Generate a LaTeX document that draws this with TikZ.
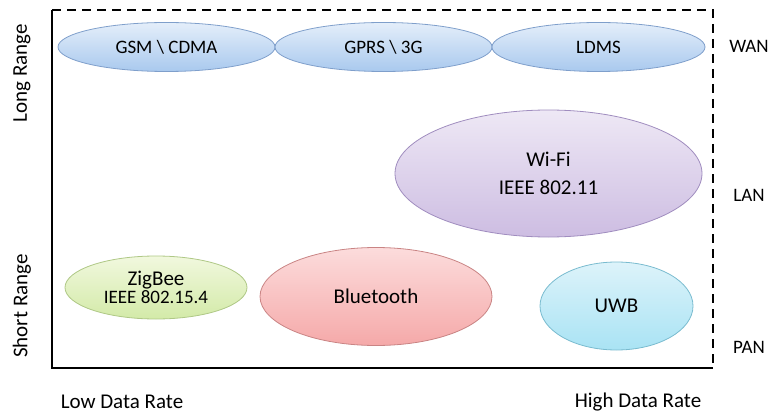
\documentclass[tikz,border=0pt]{standalone}
\usepackage{fontspec}
\setmainfont{Carlito}
\usetikzlibrary{shapes.geometric}
\definecolor{bluetop}{HTML}{E4EEFA}
\definecolor{bluebot}{HTML}{A9C9EE}
\definecolor{blueline}{HTML}{7F9FCB}
\definecolor{lavtop}{HTML}{EEE8F5}
\definecolor{lavbot}{HTML}{CDBDE2}
\definecolor{lavline}{HTML}{A08DBF}
\definecolor{pinktop}{HTML}{FCDCDC}
\definecolor{pinkbot}{HTML}{F5A9A9}
\definecolor{pinkline}{HTML}{C98484}
\definecolor{greentop}{HTML}{F1F8DE}
\definecolor{greenbot}{HTML}{D3EAA8}
\definecolor{greenline}{HTML}{AFC886}
\definecolor{cyantop}{HTML}{DDF3FA}
\definecolor{cyanbot}{HTML}{A9E3F4}
\definecolor{cyanline}{HTML}{79BBCF}
\tikzset{
  blob/.style={ellipse, inner sep=0pt, line width=0.8pt, align=center, text=black},
  bluef/.style={blob, draw=blueline, top color=bluetop, bottom color=bluebot, font=\fontsize{19}{22}\selectfont},
  lavf/.style={blob, draw=lavline, top color=lavtop, bottom color=lavbot, font=\fontsize{21}{28}\selectfont},
  pinkf/.style={blob, draw=pinkline, top color=pinktop, bottom color=pinkbot, font=\fontsize{21}{25}\selectfont},
  greenf/.style={blob, draw=greenline, top color=greentop, bottom color=greenbot},
  cyanf/.style={blob, draw=cyanline, top color=cyantop, bottom color=cyanbot, font=\fontsize{21}{25}\selectfont},
  axislabel/.style={font=\fontsize{21}{25}\selectfont, inner sep=0pt},
  netlabel/.style={font=\fontsize{19}{23}\selectfont, inner sep=0pt},
  frameline/.style={line width=2.5pt, black},
}
\begin{document}
\begin{tikzpicture}[x=1pt, y=-1pt]
\useasboundingbox (0,0) rectangle (775,414);
% frame
\coordinate (tl) at (52,10);
\coordinate (tr) at (713,10);
\coordinate (bl) at (52,368);
\coordinate (br) at (713,368);
\draw[frameline, dash pattern=on 9pt off 6pt] (tl) -- (tr) -- (br);
\draw[frameline] (tl) -- (bl) -- (br);
% ellipses
\node[bluef, minimum width=217pt, minimum height=49pt] (gsm) at (166.5,47) {GSM \textbackslash{} CDMA};
\node[bluef, minimum width=217pt, minimum height=49pt] (gprs) at (383.5,47) {GPRS \textbackslash{} 3G};
\node[bluef, minimum width=213pt, minimum height=49pt] (ldms) at (598.5,47) {LDMS};
\node[lavf, minimum width=307pt, minimum height=127pt] (wifi) at (548.5,173.5) {Wi-Fi\\IEEE 802.11};
\node[greenf, minimum width=182pt, minimum height=63pt] (zigbee) at (156,287.5) {{\fontsize{21}{26}\selectfont ZigBee}\\{\fontsize{19}{22}\selectfont IEEE 802.15.4}};
\node[pinkf, minimum width=232pt, minimum height=98pt] (bt) at (376,296.5) {Bluetooth};
\node[cyanf, minimum width=153pt, minimum height=88pt] (uwb) at (616.5,306) {UWB};
% axis labels
\node[axislabel, rotate=90] (long) at (22,73) {Long Range};
\node[axislabel, rotate=90] (short) at (22,306) {Short Range};
\node[axislabel] (low) at (122,402) {Low Data Rate};
\node[axislabel] (high) at (638,402) {High Data Rate};
\node[netlabel] (wan) at (749,46) {WAN};
\node[netlabel] (lan) at (749,195) {LAN};
\node[netlabel] (pan) at (749,347) {PAN};
\end{tikzpicture}
\end{document}
